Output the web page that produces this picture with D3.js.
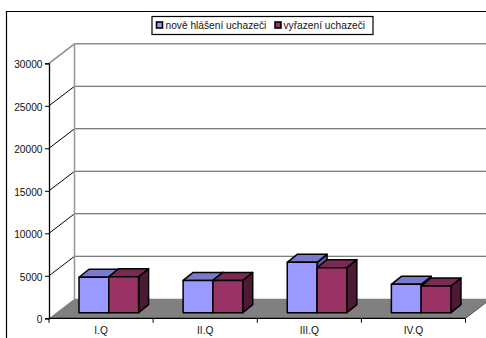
<!DOCTYPE html>
<html>
<head>
<meta charset="utf-8">
<script src="https://cdn.jsdelivr.net/npm/d3@7"></script>
<style>
html,body{margin:0;padding:0;background:#fff;overflow:hidden}
svg{display:block}
text{font-family:"Liberation Sans",Arial,sans-serif;font-size:10.2px;fill:#111}
</style>
</head>
<body>
<script>
const categories = ["I.Q","II.Q","III.Q","IV.Q"];
const seriesNames = ["nově hlášení uchazeči","vyřazení uchazeči"];
const newApplicants = [4170,3800,5930,3340];
const removedApplicants = [4240,3800,5300,3140];
const yTicks = [0,5000,10000,15000,20000,25000,30000];
const seriesColors = ["#9999ff","#993366"];
const topColors = ["#7a7acc","#7a2952"];
const sideColors = ["#5c5c99","#4d1a33"];
const W=486,H=338;
const svg=d3.select("body").append("svg").attr("width",W).attr("height",H);
const x=d3.scaleBand().domain(categories).range([49,465.5]);
const y=d3.scaleLinear().domain([0,30000]).range([318.3,63.3]);
const depth={dx:25.5,dy:-19.5};
const barDepth={dx:10,dy:-8};
const inset={dx:7.5,dy:-5.6};
const barW=29.8, pad=30;
const font='"Liberation Sans",Arial,sans-serif';

// frame
svg.append("path").attr("d",`M6.5,${H}V11.5H${W}`).attr("fill","none").attr("stroke","#000").attr("stroke-width",1.2);

// walls and grid
const g=svg.append("g");
g.selectAll("line.back").data(yTicks.slice(1)).join("line")
 .attr("x1",x.range()[0]+depth.dx).attr("x2",W)
 .attr("y1",d=>y(d)+depth.dy).attr("y2",d=>y(d)+depth.dy)
 .attr("stroke",d=>d===30000?"#8c8c8c":"#555").attr("stroke-width",d=>d===30000?1.5:1.1);
g.selectAll("line.side").data(yTicks.slice(1)).join("line")
 .attr("x1",x.range()[0]).attr("x2",x.range()[0]+depth.dx)
 .attr("y1",d=>y(d)).attr("y2",d=>y(d)+depth.dy)
 .attr("stroke",d=>d===30000?"#8c8c8c":"#000").attr("stroke-width",d=>d===30000?1.5:1);
g.append("line").attr("x1",74.5).attr("x2",74.5).attr("y1",y(30000)+depth.dy).attr("y2",y(0)+depth.dy)
 .attr("stroke","#999").attr("stroke-width",1.6);

// floor
const x0=x.range()[0],x1=x.range()[1],y0=y(0);
g.append("path").attr("d",d3.line()([[x0,y0],[x0+depth.dx,y0+depth.dy],[x1+depth.dx,y0+depth.dy],[x1,y0]])+"Z").attr("fill","#808080");

// bars
const bars=svg.append("g");
function bar(cat,val,s){
  const left=x(cat)+pad+s*barW, bottom=y0+inset.dy, top=bottom-(y0-y(val));
  const w=barW,dx=barDepth.dx,dy=barDepth.dy;
  const st={stroke:"#000","stroke-width":1.5,"stroke-linejoin":"round"};
  const add=(pts,fill)=>{const p=bars.append("path").attr("d",d3.line()(pts)+"Z").attr("fill",fill);
    Object.entries(st).forEach(([k,v])=>p.attr(k,v));};
  add([[left+w,top],[left+w+dx,top+dy],[left+w+dx,bottom+dy],[left+w,bottom]],sideColors[s]);
  add([[left,top],[left+dx,top+dy],[left+w+dx,top+dy],[left+w,top]],topColors[s]);
  add([[left,top],[left+w,top],[left+w,bottom],[left,bottom]],seriesColors[s]);
}
categories.forEach((c,i)=>{bar(c,newApplicants[i],0);bar(c,removedApplicants[i],1);});

// axes
const yAxis=d3.axisLeft(y).tickValues(yTicks).tickSize(4).tickPadding(2.5).tickFormat(d3.format("d"));
const ya=svg.append("g").attr("transform","translate(49,0)").call(yAxis);
ya.select(".domain").attr("stroke","#000").attr("stroke-width",1.3);
ya.selectAll("text").style("font-family",font).style("font-size","10.2px").attr("fill","#111").attr("dy","0.42em");
const xAxis=d3.axisBottom(x).tickSize(0).tickPadding(8);
const xa=svg.append("g").attr("transform",`translate(0,${y0})`).call(xAxis);
xa.select(".domain").remove();
xa.selectAll("text").style("font-family",font).style("font-size","10.2px").attr("fill","#111");
xa.append("line").attr("x1",x0).attr("x2",x1).attr("stroke","#000").attr("stroke-width",1.3);
xa.selectAll("line.tk").data([...categories.map(c=>x(c)),x1]).join("line").attr("class","tk")
 .attr("x1",d=>d).attr("x2",d=>d).attr("y1",0).attr("y2",4.5).attr("stroke","#000");
// right floor edge extension
svg.append("line").attr("x1",x1).attr("y1",y0).attr("x2",x1+depth.dx).attr("y2",y0+depth.dy).attr("stroke","#333").attr("stroke-width",.8);

// legend
const lg=svg.append("g");
lg.append("rect").attr("x",152).attr("y",16.5).attr("width",221).attr("height",18).attr("fill","#fff").attr("stroke","#000").attr("stroke-width",1.2);
[[156,165.5],[274.5,283.5]].forEach(([sx,tx],i)=>{
  lg.append("rect").attr("x",sx+.5).attr("y",22).attr("width",6).attr("height",6).attr("fill",seriesColors[i]).attr("stroke","#000").attr("stroke-width",1.6);
  lg.append("text").attr("x",tx).attr("y",29).text(seriesNames[i]);
});
</script>
</body>
</html>
